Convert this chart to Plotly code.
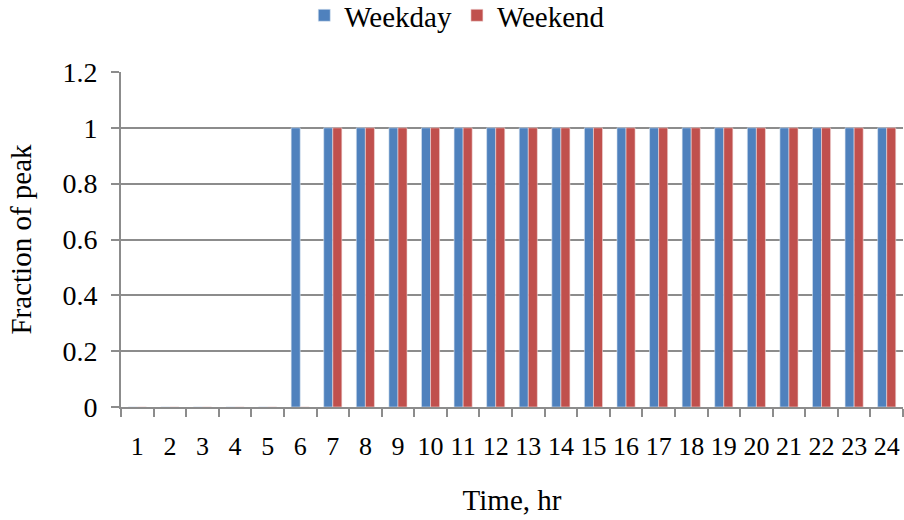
import plotly.graph_objects as go

hours = [str(h) for h in range(1, 25)]
weekday = [0, 0, 0, 0, 0] + [1] * 19
weekend = [0, 0, 0, 0, 0, 0] + [1] * 18
y_ticks = [0, 0.2, 0.4, 0.6, 0.8, 1, 1.2]
y_tick_text = ["0", "0.2", "0.4", "0.6", "0.8", "1", "1.2"]

font_family = "Liberation Serif, Times New Roman, serif"
x_tick_size = 26
y_tick_size = 28
label_size = 29
grid_color = "#8c8c8c"

fig = go.Figure()
fig.add_trace(go.Bar(x=hours, y=weekday, name="Weekday",
                     marker=dict(color="#4F81BD", line=dict(color="#dce6f2", width=0.6))))
fig.add_trace(go.Bar(x=hours, y=weekend, name="Weekend",
                     marker=dict(color="#C0504D", line=dict(color="#f2dcdb", width=0.6))))

fig.update_layout(
    width=904, height=520,
    margin=dict(l=121, r=1, t=72, b=113, autoexpand=False),
    paper_bgcolor="white", plot_bgcolor="white",
    barmode="group", bargap=0.444, bargroupgap=0,
    font=dict(family=font_family, size=y_tick_size, color="black"),
    legend=dict(orientation="h", x=0.43, xanchor="center",
                y=1.245, yanchor="top",
                font=dict(size=label_size), itemwidth=30, tracegroupgap=0),
    showlegend=True,
)
fig.update_xaxes(
    type="category", showgrid=False, tickangle=0,
    tickmode="linear", dtick=1,
    showline=True, linecolor=grid_color, linewidth=2,
    ticks="outside", ticklen=8, tickcolor=grid_color, tickwidth=2,
    tickson="boundaries", ticklabelstandoff=15,
    tickfont=dict(size=x_tick_size, family=font_family),
    title=dict(text="Time, hr", font=dict(size=label_size, family=font_family), standoff=29),
)
fig.update_yaxes(
    range=[0, 1.2], tickvals=y_ticks, ticktext=y_tick_text,
    showgrid=True, gridcolor=grid_color, gridwidth=1.5,
    showline=True, linecolor=grid_color, linewidth=2,
    ticks="outside", ticklen=8, tickcolor=grid_color, tickwidth=2,
    zeroline=False, ticklabelstandoff=8,
    tickfont=dict(size=y_tick_size, family=font_family),
    title=dict(text="Fraction of peak", font=dict(size=label_size, family=font_family), standoff=22),
)

fig.write_html("out.html")
